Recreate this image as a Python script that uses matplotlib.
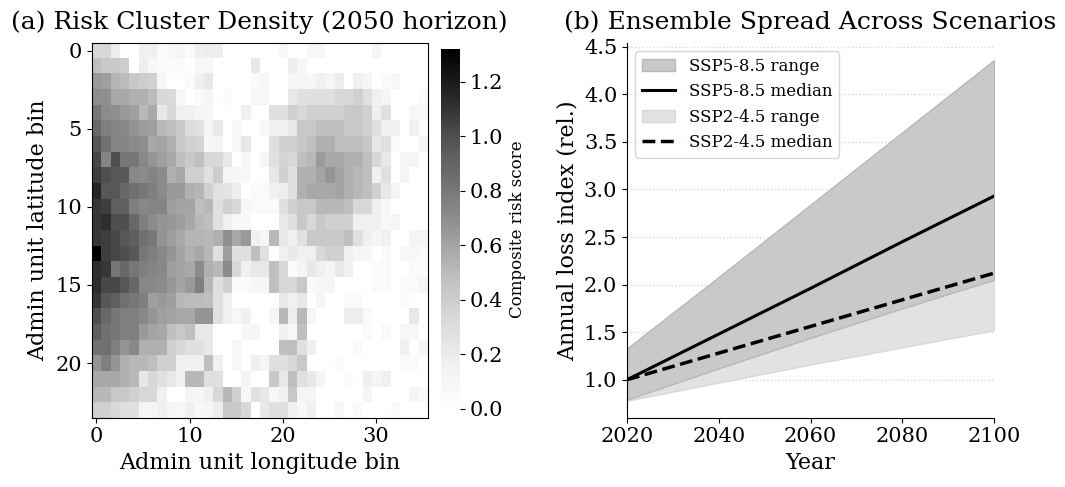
import numpy as np
import matplotlib
matplotlib.use("Agg")
import matplotlib.pyplot as plt

# ---------------- data ----------------
risk_rows = [
    [0.33,0.33,0.18,0,0,0.16,0.16,0.05,0.08,0.11,0.05,0.16, 0.19,0.18,0,0,0,0,0,0,0.08,0,0,0.08, 0.08,0,0,0,0,0,0.11,0,0,0,0,0],
    [0.48,0.43,0.43,0.4,0,0.18,0.08,0.05,0.05,0.05,0,0.08, 0.08,0,0,0,0,0.22,0,0,0,0.18,0.08,0, 0,0,0,0,0,0,0,0,0,0,0,0],
    [0.64,0.62,0.53,0.5,0.43,0.4,0.38,0.08,0,0,0.05,0.16, 0.22,0,0,0,0,0.05,0.08,0,0,0.11,0.11,0.08, 0.16,0.11,0.19,0,0.16,0.11,0,0.05,0.08,0,0,0],
    [0.7,0.69,0.58,0.58,0.55,0.55,0.5,0.33,0.31,0.08,0,0.05, 0.11,0,0.05,0,0,0.08,0.08,0,0,0.22,0.28,0.28, 0.28,0.28,0.33,0.33,0.38,0.28,0.16,0.11,0,0,0,0.05],
    [0.8,0.71,0.69,0.645,0.62,0.515,0.58,0.22,0.33,0.16,0.16,0.11, 0.08,0,0,0,0.16,0,0,0.28,0.28,0.38,0.33,0.38, 0.38,0.38,0.38,0.43,0.43,0.38,0.16,0.28,0,0,0.08,0.08],
    [0.88,0.765,0.74,0.725,0.67,0.63,0.62,0.515,0.48,0.43,0.3,0.28, 0.11,0.22,0,0.08,0,0,0.08,0.16,0.16,0.22,0.43,0.43, 0.48,0.48,0.48,0.43,0.43,0.38,0.28,0.16,0.16,0,0.16,0],
    [0.96,0.84,0.74,0.74,0.72,0.7,0.58,0.6,0.55,0.43,0.38,0.36, 0.08,0.11,0,0.08,0.22,0,0,0.28,0.38,0.38,0.43,0.48, 0.55,0.55,0.48,0.48,0.48,0.43,0.22,0.28,0.05,0,0,0.11],
    [1.03,0.74,1.0,0.8,0.8,0.725,0.67,0.62,0.58,0.48,0.43,0.48, 0.33,0.33,0.22,0,0.08,0,0.08,0.28,0.36,0.33,0.48,0.515, 0.64,0.58,0.58,0.55,0.55,0.48,0.33,0.22,0,0.11,0.11,0],
    [1.06,1.0,0.96,0.96,0.725,0.71,0.74,0.71,0.55,0.58,0.38,0.38, 0.28,0.4,0.11,0.11,0.08,0,0,0.22,0.38,0.28,0.55,0.55, 0.6,0.67,0.6,0.55,0.515,0.48,0.16,0.28,0,0.11,0,0],
    [1.15,0.96,0.96,0.88,0.84,0.8,0.765,0.71,0.64,0.64,0.55,0.53, 0.38,0.28,0.25,0.19,0,0.05,0.05,0.16,0.19,0.28,0.55,0.58, 0.58,0.58,0.6,0.55,0.515,0.48,0.38,0.22,0.11,0,0,0],
    [1.09,1.06,0.92,0.92,0.765,0.725,0.74,0.74,0.62,0.6,0.6,0.48, 0.515,0.28,0.38,0.33,0.08,0.05,0.05,0.05,0.28,0.38,0.43,0.43, 0.515,0.515,0.515,0.48,0.33,0.33,0.16,0.08,0,0,0,0],
    [1.09,1.12,1.0,1.0,0.88,0.765,0.71,0.67,0.65,0.62,0.58,0.515, 0.48,0.28,0.16,0.08,0.08,0,0,0,0.22,0.28,0.43,0.33, 0.43,0.38,0.38,0.38,0.16,0.16,0.16,0.08,0.11,0,0,0],
    [1.09,1.06,1.03,0.96,0.92,0.84,0.8,0.67,0.62,0.58,0.53,0.53, 0.515,0.55,0.69,0.58,0.645,0.16,0.11,0.515,0.22,0.16,0.28,0.43, 0.43,0.43,0.43,0.48,0.28,0.16,0.11,0.16,0,0,0.11,0.11],
    [1.32,1.06,1.03,1.0,0.96,0.8,0.765,0.725,0.67,0.6,0.55,0.58, 0.515,0.28,0.62,0.28,0.28,0.48,0.28,0,0.16,0.22,0.16,0.16, 0.33,0.38,0.38,0.16,0.11,0.08,0,0.05,0,0.08,0.08,0.05],
    [1.12,1.09,0.8,0.88,0.8,0.765,0.74,0.725,0.62,0.6,0.58,0.71, 0.55,0.515,0.71,0.33,0.16,0.22,0.22,0.48,0.33,0.05,0.11,0.22, 0.16,0.11,0.22,0.16,0,0,0.05,0.05,0,0,0.05,0.05],
    [1.12,1.03,1.03,0.96,0.88,0.725,0.725,0.71,0.65,0.6,0.645,0.765, 0.515,0.28,0.38,0.05,0.05,0.08,0.11,0.48,0.33,0.33,0.43,0.05, 0.08,0.11,0,0,0,0,0.05,0.05,0,0.05,0.05,0.11],
    [1.09,0.96,0.92,0.84,0.8,0.765,0.62,0.645,0.62,0.515,0.5,0.5, 0.48,0.28,0.16,0,0,0,0,0,0.22,0.16,0.22,0, 0.11,0,0,0.05,0.05,0,0,0,0,0.05,0,0],
    [1.0,0.88,0.8,0.765,0.765,0.725,0.67,0.62,0.6,0.58,0.58,0.67, 0.67,0.28,0.16,0.08,0.16,0,0,0.11,0.515,0.19,0.515,0.11, 0,0,0,0.19,0.19,0.05,0,0,0,0,0.22,0],
    [0.92,0.84,0.8,0.765,0.765,0.645,0.6,0.58,0.48,0.43,0.48,0.22, 0.22,0,0,0,0.08,0.11,0,0,0.16,0.08,0.48,0, 0,0,0,0,0,0.05,0,0.05,0,0.08,0.08,0],
    [0.84,0.84,0.765,0.67,0.725,0.55,0.55,0.55,0.38,0.33,0.28,0.28, 0.22,0,0,0.08,0,0,0,0,0.48,0.48,0.28,0.16, 0,0,0,0,0.05,0,0,0,0,0.16,0,0.11],
    [0.67,0.765,0.67,0.55,0.515,0.515,0.48,0.38,0.38,0.16,0.16,0.16, 0.48,0.16,0,0.08,0,0.16,0.11,0.28,0.28,0.33,0.43,0, 0,0,0.05,0,0,0,0,0,0,0.05,0.05,0],
    [0.58,0.58,0.58,0.55,0.515,0.22,0.33,0.28,0.22,0.16,0.515,0.515, 0.28,0.28,0,0,0.11,0,0,0.43,0.22,0.48,0.28,0.22, 0.11,0,0,0.05,0,0.16,0.11,0.16,0,0,0,0],
    [0.515,0.515,0.43,0.43,0.38,0.33,0.33,0.16,0,0,0.11,0.11, 0.16,0.33,0.515,0.38,0.08,0.28,0.22,0.08,0.16,0.43,0.11,0.11, 0,0,0,0,0,0.11,0,0,0,0,0.11,0.05],
    [0.38,0.38,0.33,0.28,0.28,0.11,0.11,0.16,0.11,0.08,0.16,0.08, 0.11,0.19,0.43,0.43,0.33,0,0.22,0.28,0.28,0.16,0.08,0.16, 0,0,0.08,0,0.05,0,0,0,0.05,0,0,0],
]

years = [2020, 2040, 2060, 2080, 2100]
ssp585_median = [1.00, 1.48, 1.96, 2.45, 2.93]
ssp585_low = [0.79, 1.12, 1.44, 1.75, 2.05]
ssp585_high = [1.33, 2.08, 2.84, 3.60, 4.36]
ssp245_median = [1.00, 1.28, 1.56, 1.84, 2.12]
ssp245_low = [0.78, 0.97, 1.16, 1.34, 1.52]
ssp245_high = [1.20, 1.58, 1.96, 2.34, 2.72]

# ---------------- figure ----------------
plt.rcParams['font.family'] = ['DejaVu Serif']
W, H = 1065, 487
fig = plt.figure(figsize=(W / 100, H / 100), dpi=100)


def box(x0, y0, x1, y1):
    return [x0 / W, 1 - y1 / H, (x1 - x0) / W, (y1 - y0) / H]


risk = np.array(risk_rows)
ax1 = fig.add_axes(box(91.6, 42.7, 427.5, 417.7))
im = ax1.imshow(risk, cmap='Greys', aspect='auto', interpolation='nearest', vmin=0)
ax1.set_title('(a) Risk Cluster Density (2050 horizon)', fontsize=18, pad=10)
ax1.set_xlabel('Admin unit longitude bin', fontsize=16)
ax1.set_ylabel('Admin unit latitude bin', fontsize=16)
ax1.set_xticks([0, 10, 20, 30])
ax1.set_yticks([0, 5, 10, 15, 20])
ax1.tick_params(labelsize=15)

cax = fig.add_axes(box(441, 49, 460, 409))
cb = fig.colorbar(im, cax=cax)
cb.set_label('Composite risk score', fontsize=12)
cb.ax.tick_params(labelsize=15)
cb.outline.set_visible(False)

ax2 = fig.add_axes(box(627, 43, 994, 417.7))
f2 = ax2.fill_between(years, ssp245_low, ssp245_high, facecolor='#e2e2e2',
                      edgecolor='#d8d8d8', lw=1, zorder=1, label='SSP2-4.5 range')
f1 = ax2.fill_between(years, ssp585_low, ssp585_high, facecolor='#c9c9c9',
                      edgecolor='#b8b8b8', lw=1, zorder=2, label='SSP5-8.5 range')
l1, = ax2.plot(years, ssp585_median, color='black', lw=2.2, zorder=3, label='SSP5-8.5 median')
l2, = ax2.plot(years, ssp245_median, color='black', lw=2.5, ls='--', zorder=3, label='SSP2-4.5 median')
ax2.set_xlim(2020, 2100)
ax2.set_xticks([2020, 2040, 2060, 2080, 2100])
ax2.set_title('(b) Ensemble Spread Across Scenarios', fontsize=18, pad=10)
ax2.set_xlabel('Year', fontsize=16)
ax2.set_ylabel('Annual loss index (rel.)', fontsize=16)
ax2.tick_params(labelsize=15)
ax2.grid(axis='y', ls=':', color='0.85', lw=1, zorder=0)
ax2.set_axisbelow(True)
ax2.spines['top'].set_visible(False)
ax2.spines['right'].set_visible(False)
ax2.legend(handles=[f1, l1, f2, l2], loc='upper left', fontsize=12)

fig.savefig('out.png', dpi=100)
